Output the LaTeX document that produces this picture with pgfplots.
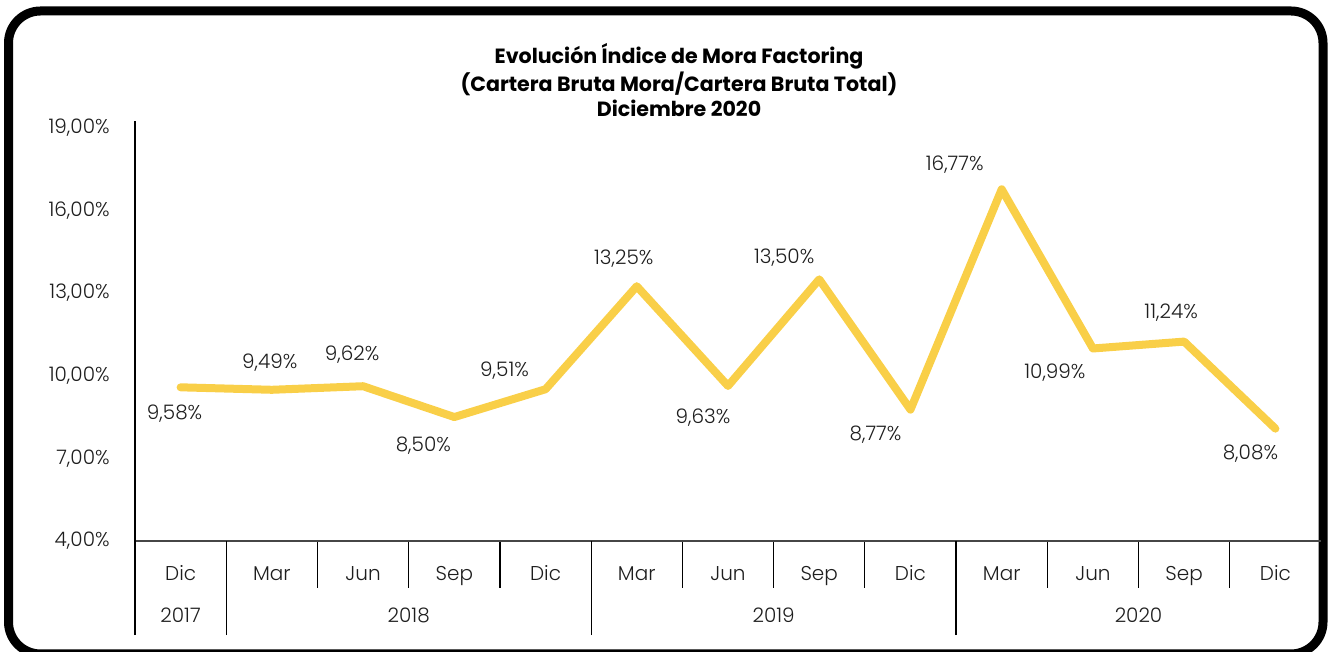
\documentclass[border=0pt]{standalone}
\usepackage{fontspec}
\setmainfont{Poppins}[UprightFont={* Light}, BoldFont={* Bold}]
\usepackage{pgfplots}
\usepackage{pgfplotstable}
\pgfplotsset{compat=1.18}
\definecolor{amarillo}{RGB}{249,207,72}
\definecolor{gris}{RGB}{70,70,70}
\definecolor{texto}{RGB}{30,30,30}

% x = trimestre, y = indice de mora (%), dx/dy = desplazamiento de la etiqueta (pt)
\pgfplotstableread{
x y dx dy
0 9.58 -3 -13
1 9.49 -1 13.5
2 9.62 -5.5 16
3 8.50 -15.5 -14.5
4 9.51 -20.5 9.5
5 13.25 -6.5 14
6 9.63 -12.5 -16
7 13.50 -17.5 11
8 8.77 -17.5 -12.5
9 16.77 -23.5 12.5
10 10.99 -19 -12
11 11.24 -6.5 14.5
12 8.08 -12.5 -12.5
}\mora

\begin{document}
\begin{tikzpicture}
\path[use as bounding box] (0,0) rectangle (664.5pt,326pt);
\draw[black, line width=4.5pt, rounded corners=16pt] (4.25pt,-1pt) rectangle (661.5pt,320.5pt);
\begin{axis}[
    at={(67.5pt,55.5pt)}, anchor=south west,
    scale only axis, width=593pt, height=210pt,
    clip=false,
    xmin=-0.5, xmax=12.5, ymin=4, ymax=19.25,
    axis x line*=bottom, axis y line*=left,
    x axis line style={-, gris, line width=1pt},
    y axis line style={-, black, line width=0.7pt},
    /pgf/number format/assume math mode=true,
    xtick={0,...,12},
    xticklabels={Dic,Mar,Jun,Sep,Dic,Mar,Jun,Sep,Dic,Mar,Jun,Sep,Dic},
    minor xtick={1.5,2.5,3.5,5.5,6.5,7.5,9.5,10.5,11.5},
    extra x ticks={-0.5,0.5,4.5,8.5},
    extra x tick labels={},
    extra x tick style={major tick length=47pt},
    ytick={4,7,...,19},
    yticklabel={\pgfmathprintnumber[fixed,fixed zerofill,precision=2,use comma]{\tick}\%},
    major tick length=0pt, minor tick length=23.5pt, tick align=outside,
    tick style={black, line width=0.6pt},
    tick label style={text=texto, font=\fontsize{10}{12}\selectfont},
    xticklabel style={anchor=center, yshift=-17.5pt, text height=7pt, text depth=2pt},
    yticklabel style={anchor=east, inner sep=0pt, xshift=-12.5pt},
    title={Evolución Índice de Mora Factoring\\(Cartera Bruta Mora/Cartera Bruta Total)\\Diciembre 2020},
    title style={at={(axis description cs:0.4587,1)}, anchor=center, yshift=14.5pt,
        align=center, text=black, font=\fontsize{10.3}{12.5}\selectfont\bfseries},
]
\addplot[amarillo, line width=4pt, line join=round, line cap=round,
    point meta=y,
    visualization depends on={\thisrow{dx} \as \dx},
    visualization depends on={\thisrow{dy} \as \dy},
    nodes near coords={\pgfmathprintnumber[fixed,fixed zerofill,precision=2,use comma]{\pgfplotspointmeta}\%},
    every node near coord/.append style={anchor=center, text=texto,
        font=\fontsize{10}{12}\selectfont, xshift=\dx, yshift=\dy},
] table[x=x, y=y] {\mora};

\node[text=texto, font=\fontsize{10}{12}\selectfont, text height=7pt, text depth=2pt, yshift=-38.5pt] at (axis cs:0,4) {2017};
\node[text=texto, font=\fontsize{10}{12}\selectfont, text height=7pt, text depth=2pt, yshift=-38.5pt] at (axis cs:2.5,4) {2018};
\node[text=texto, font=\fontsize{10}{12}\selectfont, text height=7pt, text depth=2pt, yshift=-38.5pt] at (axis cs:6.5,4) {2019};
\node[text=texto, font=\fontsize{10}{12}\selectfont, text height=7pt, text depth=2pt, yshift=-38.5pt] at (axis cs:10.5,4) {2020};
\end{axis}
\end{tikzpicture}
\end{document}
